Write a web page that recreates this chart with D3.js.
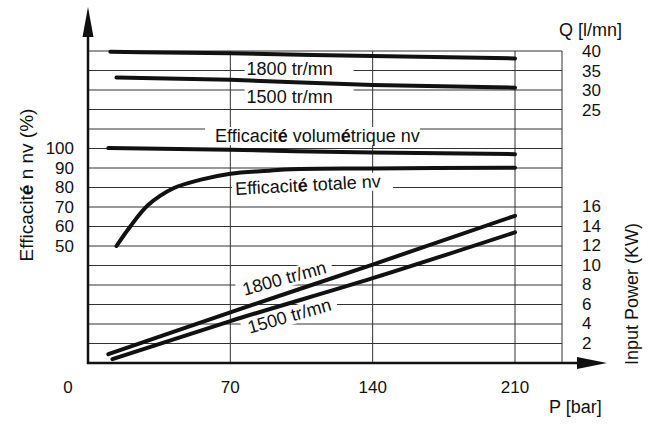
<!DOCTYPE html>
<html>
<head>
<meta charset="utf-8">
<script src="https://cdn.jsdelivr.net/npm/d3@7"></script>
<style>
  body { margin: 0; background: #fff; }
  text { font-family: "Liberation Sans", Arial, sans-serif; fill: #111; }
</style>
</head>
<body>
<script>
// P [bar] on x, three vertical quantities share the same grid
var xTicks = [0, 70, 140, 210];
var effTicks = [100, 90, 80, 70, 60, 50];
var qTicks = [40, 35, 30, 25];
var powerTicks = [16, 14, 12, 10, 8, 6, 4, 2];

// Q [l/mn]
var q1800 = [[11, 39.8], [70, 39.4], [140, 38.7], [210, 38.1]];
var q1500 = [[14, 33.2], [70, 32.6], [140, 31.3], [210, 30.6]];
// efficiency (%)
var effVol = [[10, 99.9], [70, 99.0], [140, 97.6], [210, 96.8]];
var effTot = [[14, 49.7], [20.7, 59.6], [29.7, 70.8], [42, 79.3], [55, 83.6], [70, 86.8],
              [90, 88.4], [100, 89.1], [140, 89.5], [210, 89.8]];
// input power (KW)
var pw1800 = [[10, 0.9], [70, 5.2], [140, 10.1], [210, 15.1]];
var pw1500 = [[12, 0.4], [70, 4.3], [140, 8.7], [210, 13.4]];

var width = 653, height = 427;
var svg = d3.select("body").append("svg").attr("width", width).attr("height", height);

var x = d3.scaleLinear().domain([0, 210]).range([88, 515]);
var yPow = d3.scaleLinear().domain([0, 32]).range([363, 51]);
var yEff = d3.scaleLinear().domain([-10.3, 149.7]).range([363, 51]);
var yQ = d3.scaleLinear().domain([-40, 40]).range([363, 51]);
var xEnd = 562;

// grid
var grid = svg.append("g").attr("stroke", "#333").attr("stroke-width", 1);
grid.selectAll("line.h").data(d3.range(2, 33, 2)).enter().append("line")
  .attr("x1", x(0)).attr("x2", xEnd)
  .attr("y1", function(d) { return yPow(d); }).attr("y2", function(d) { return yPow(d); });
grid.selectAll("line.v").data(xTicks.slice(1)).enter().append("line")
  .attr("x1", function(d) { return x(d); }).attr("x2", function(d) { return x(d); })
  .attr("y1", yPow(32)).attr("y2", yPow(0));
grid.append("line").attr("x1", xEnd).attr("x2", xEnd).attr("y1", yPow(32)).attr("y2", yPow(0));

// labels on curves (white boxes hide grid)
var notes = [
  {t: ["1800 tr/mn"], px: 78, py: yQ(33.9), a: 0, pl: 2, pr: 21},
  {t: ["1500 tr/mn"], px: 78, py: yQ(26.7), a: 0, pl: 2, pr: 21},
  {t: ["Efficacit", "é", " volum", "é", "trique nv"], px: 62.5, py: yEff(103), a: 0, pl: 10, pr: 0},
  {t: ["Efficacit", "é", " totale nv"], px: 72.5, py: yEff(75.9), a: -3, pl: 3, pr: 12},
  {t: ["1800 tr/mn"], px: 77, py: yPow(6.9), a: -15.5, pl: 6, pr: 6},
  {t: ["1500 tr/mn"], px: 79.5, py: yPow(3.0), a: -16, pl: 6, pr: 6}
];
var boxLayer = svg.append("g");
var curveLayer = svg.append("g");
var textLayer = svg.append("g");

notes.forEach(function(n) {
  var gx = x(n.px), gy = n.py;
  var g = textLayer.append("g").attr("transform", "translate(" + gx + "," + gy + ") rotate(" + n.a + ")");
  var txt = g.append("text").attr("font-size", 18);
  n.t.forEach(function(s) {
    txt.append("tspan").attr("font-weight", s === "é" ? "bold" : null).text(s);
  });
  var bb = txt.node().getBBox();
  boxLayer.append("rect")
    .attr("transform", "translate(" + gx + "," + gy + ") rotate(" + n.a + ")")
    .attr("x", bb.x - n.pl).attr("y", bb.y + 1)
    .attr("width", bb.width + n.pl + n.pr).attr("height", bb.height - 2)
    .attr("fill", "#fff");
});

// curves
var lineQ = d3.line().x(function(d) { return x(d[0]); }).y(function(d) { return yQ(d[1]); }).curve(d3.curveMonotoneX);
var lineE = d3.line().x(function(d) { return x(d[0]); }).y(function(d) { return yEff(d[1]); }).curve(d3.curveMonotoneX);
var lineT = d3.line().x(function(d) { return x(d[0]); }).y(function(d) { return yEff(d[1]); }).curve(d3.curveCatmullRom.alpha(0.5));
var lineP = d3.line().x(function(d) { return x(d[0]); }).y(function(d) { return yPow(d[1]); }).curve(d3.curveMonotoneX);
var curves = [[q1800, lineQ], [q1500, lineQ], [effVol, lineE], [effTot, lineT], [pw1800, lineP], [pw1500, lineP]];
curves.forEach(function(c) {
  curveLayer.append("path").attr("d", c[1](c[0]))
    .attr("fill", "none").attr("stroke", "#111").attr("stroke-width", 4)
    .attr("stroke-linecap", "round").attr("stroke-linejoin", "round");
});

// axes with arrows
var axes = svg.append("g");
axes.append("line").attr("x1", x(0)).attr("x2", x(0)).attr("y1", yPow(0) + 1).attr("y2", 30)
  .attr("stroke", "#111").attr("stroke-width", 2.5);
axes.append("path").attr("d", "M" + x(0) + ",7 L" + (x(0) - 5.5) + ",37 L" + (x(0) + 5.5) + ",37 Z").attr("fill", "#111");
axes.append("line").attr("x1", x(0) - 1).attr("x2", 585).attr("y1", yPow(0)).attr("y2", yPow(0))
  .attr("stroke", "#111").attr("stroke-width", 2.5);
axes.append("path").attr("d", "M607," + yPow(0) + " L577," + (yPow(0) - 6) + " L577," + (yPow(0) + 6) + " Z").attr("fill", "#111");

// tick labels
var ticks = svg.append("g").attr("font-size", 17);
ticks.selectAll("text.x").data(xTicks).enter().append("text")
  .attr("x", function(d) { return d === 0 ? x(d) - 20 : x(d); })
  .attr("y", 393).attr("text-anchor", "middle").text(function(d) { return d; });
ticks.selectAll("text.e").data(effTicks).enter().append("text")
  .attr("x", 74).attr("y", function(d) { return yEff(d); }).attr("dy", "0.36em")
  .attr("text-anchor", "end").text(function(d) { return d; });
ticks.selectAll("text.q").data(qTicks).enter().append("text")
  .attr("x", 582).attr("y", function(d) { return yQ(d); }).attr("dy", "0.36em")
  .text(function(d) { return d; });
ticks.selectAll("text.p").data(powerTicks).enter().append("text")
  .attr("x", 582).attr("y", function(d) { return yPow(d); }).attr("dy", "0.3em")
  .text(function(d) { return d; });

// axis titles
svg.append("text").attr("x", 559).attr("y", 36).attr("font-size", 18).text("Q [l/mn]");
svg.append("text").attr("x", 549).attr("y", 413).attr("font-size", 18).text("P [bar]");
var lt = svg.append("text").attr("transform", "translate(33,185) rotate(-90)")
  .attr("text-anchor", "middle").attr("font-size", 19);
lt.append("tspan").text("Efficacit");
lt.append("tspan").attr("font-weight", "bold").text("é");
lt.append("tspan").text(" n nv (%)");
svg.append("text").attr("transform", "translate(638,294) rotate(-90)")
  .attr("text-anchor", "middle").attr("font-size", 18).text("Input Power (KW)");
</script>
</body>
</html>
